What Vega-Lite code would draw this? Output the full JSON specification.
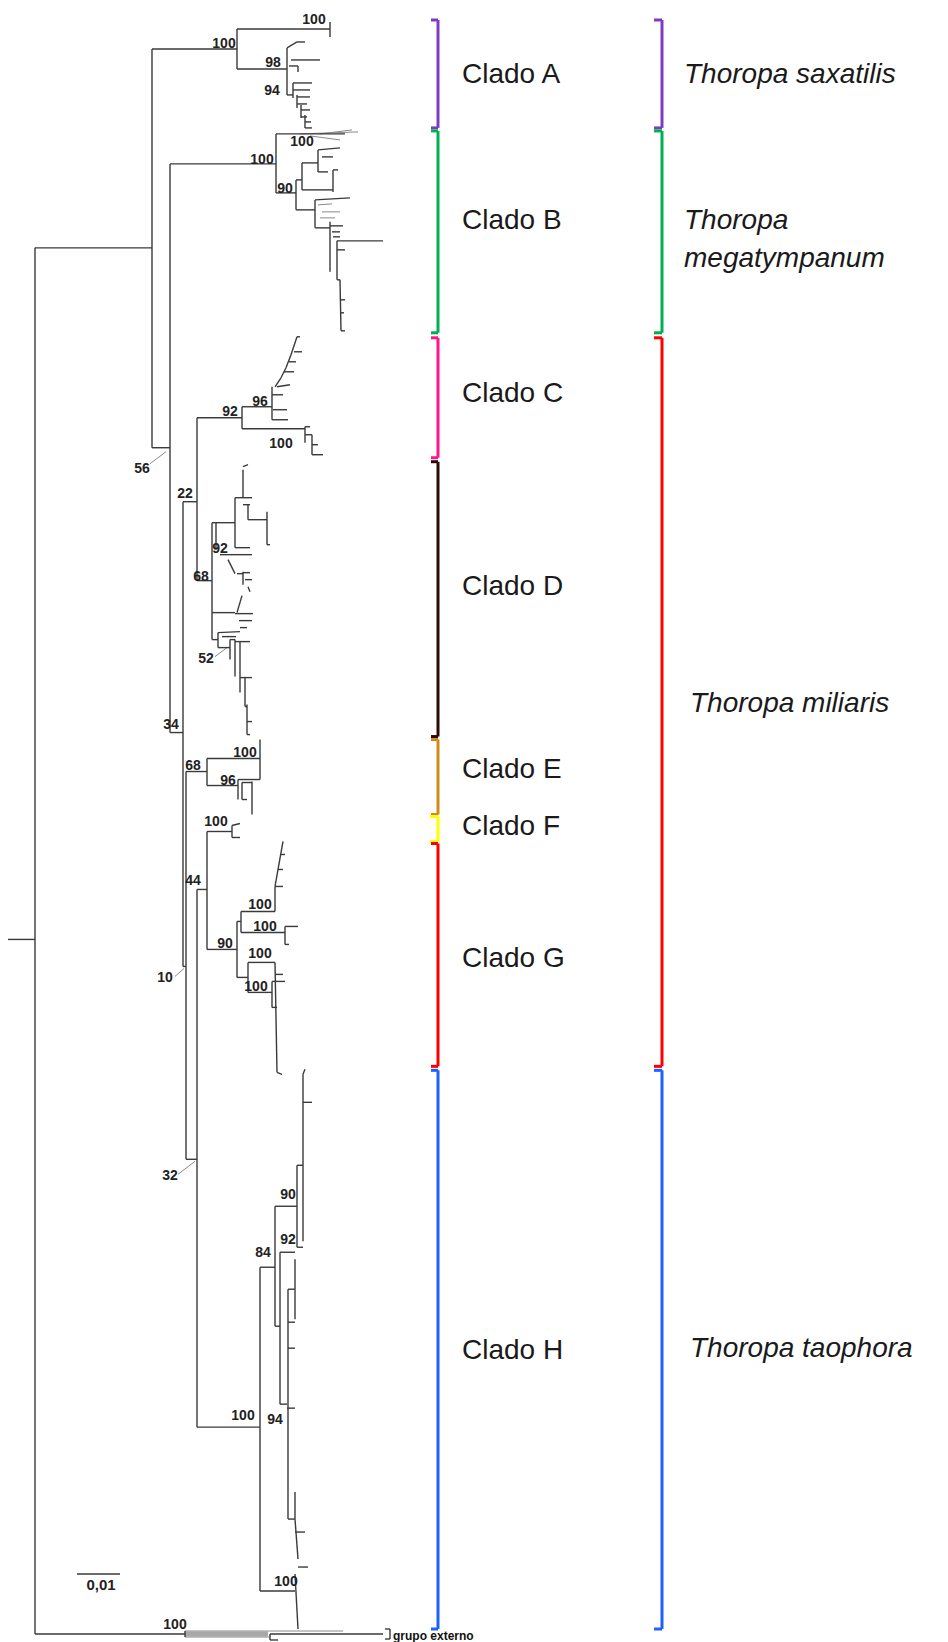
{
"$schema": "https://vega.github.io/schema/vega-lite/v6.json",
"width": 948, "height": 1642,
"autosize": {"type": "fit", "contains": "padding"},
"padding": 0,
"background": "white",
"config": {"view": {"stroke": null}, "text": {"font": "Liberation Sans"}},
"datasets": {
"tree": [
{"x":8,"y":940,"x2":35,"y2":940},{"x":35,"y":248,"x2":35,"y2":1635},{"x":35,"y":248,"x2":152,"y2":248},{"x":152,"y":49,"x2":152,"y2":448},{"x":152,"y":49,"x2":237,"y2":49},{"x":152,"y":448,"x2":170,"y2":448},{"x":170,"y":164,"x2":170,"y2":733},{"x":170,"y":164,"x2":276,"y2":164},{"x":170,"y":733,"x2":183,"y2":733},{"x":183,"y":502,"x2":183,"y2":967},{"x":183,"y":502,"x2":197,"y2":502},{"x":197,"y":418,"x2":197,"y2":581},{"x":197,"y":418,"x2":242,"y2":418},{"x":197,"y":581,"x2":212,"y2":581},{"x":183,"y":967,"x2":186,"y2":967},{"x":186,"y":772,"x2":186,"y2":1160},{"x":186,"y":772,"x2":207,"y2":772},{"x":186,"y":1160,"x2":197,"y2":1160},{"x":197,"y":890,"x2":197,"y2":1428},{"x":197,"y":890,"x2":207,"y2":890},{"x":207,"y":832,"x2":207,"y2":950},{"x":207,"y":832,"x2":232,"y2":832},{"x":207,"y":950,"x2":237,"y2":950},{"x":197,"y":1428,"x2":260,"y2":1428},
{"x":35,"y":1635,"x2":185,"y2":1635},{"x":185,"y":1632,"x2":185,"y2":1638},{"x":270,"y":1635,"x2":383,"y2":1635},{"x":270,"y":1635,"x2":270,"y2":1641},{"x":270,"y":1641,"x2":278,"y2":1641},{"x":385,"y":1630,"x2":390,"y2":1630},{"x":390,"y":1630,"x2":390,"y2":1640},{"x":385,"y":1640,"x2":390,"y2":1640},{"x":77,"y":1575,"x2":120,"y2":1575},
{"x":237,"y":29,"x2":237,"y2":69},{"x":237,"y":29,"x2":330,"y2":29},{"x":330,"y":22,"x2":330,"y2":37},{"x":237,"y":69,"x2":287,"y2":69},{"x":287,"y":48,"x2":287,"y2":95},{"x":287,"y":48,"x2":297,"y2":42},{"x":297,"y":42,"x2":305,"y2":42},{"x":291,"y":60,"x2":320,"y2":60},{"x":289,"y":66,"x2":298,"y2":66},{"x":298,"y":66,"x2":298,"y2":72},{"x":287,"y":95,"x2":293,"y2":95},{"x":293,"y":83,"x2":293,"y2":98},{"x":293,"y":83,"x2":312,"y2":83},{"x":293,"y":90,"x2":310,"y2":90},{"x":297,"y":95,"x2":297,"y2":108},{"x":297,"y":97,"x2":310,"y2":97},{"x":297,"y":104,"x2":307,"y2":104},{"x":301,"y":105,"x2":301,"y2":118},{"x":301,"y":110,"x2":310,"y2":110},{"x":301,"y":117,"x2":307,"y2":117},{"x":305,"y":115,"x2":305,"y2":128},{"x":305,"y":122,"x2":311,"y2":122},{"x":305,"y":128,"x2":312,"y2":128},
{"x":276,"y":134,"x2":276,"y2":193},{"x":276,"y":134,"x2":345,"y2":134},{"x":276,"y":193,"x2":296,"y2":193},{"x":296,"y":180,"x2":296,"y2":210},{"x":296,"y":180,"x2":302,"y2":180},{"x":302,"y":163,"x2":302,"y2":190},{"x":302,"y":163,"x2":318,"y2":163},{"x":318,"y":150,"x2":318,"y2":172},{"x":318,"y":150,"x2":340,"y2":148},{"x":318,"y":172,"x2":328,"y2":172},{"x":322,"y":157,"x2":333,"y2":157},{"x":302,"y":190,"x2":333,"y2":190},{"x":333,"y":170,"x2":333,"y2":192},{"x":333,"y":170,"x2":338,"y2":170},{"x":296,"y":210,"x2":315,"y2":210},{"x":315,"y":200,"x2":315,"y2":228},{"x":315,"y":200,"x2":350,"y2":198},{"x":315,"y":228,"x2":330,"y2":228},{"x":330,"y":222,"x2":330,"y2":272},{"x":330,"y":226,"x2":343,"y2":226},{"x":332,"y":232,"x2":340,"y2":232},{"x":333,"y":237,"x2":340,"y2":237},{"x":337,"y":241,"x2":383,"y2":241},{"x":337,"y":241,"x2":337,"y2":280},{"x":337,"y":250,"x2":345,"y2":250},{"x":337,"y":280,"x2":340,"y2":280},{"x":340,"y":280,"x2":341,"y2":331},{"x":340,"y":300,"x2":345,"y2":300},{"x":341,"y":313,"x2":344,"y2":313},{"x":341,"y":331,"x2":345,"y2":331},
{"x":242,"y":407,"x2":242,"y2":429},{"x":242,"y":407,"x2":272,"y2":407},{"x":272,"y":387,"x2":272,"y2":420},{"x":272,"y":420,"x2":288,"y2":420},{"x":273,"y":410,"x2":287,"y2":410},{"x":272,"y":395,"x2":283,"y2":395},{"x":277,"y":387,"x2":290,"y2":385},{"x":275,"y":387,"x2":281,"y2":378},{"x":281,"y":378,"x2":286,"y2":368},{"x":286,"y":368,"x2":291,"y2":355},{"x":291,"y":355,"x2":297,"y2":337},{"x":297,"y":337,"x2":300,"y2":337},{"x":284,"y":372,"x2":294,"y2":372},{"x":289,"y":362,"x2":296,"y2":362},{"x":294,"y":352,"x2":302,"y2":352},{"x":242,"y":429,"x2":305,"y2":429},{"x":305,"y":427,"x2":305,"y2":443},{"x":305,"y":435,"x2":312,"y2":435},{"x":312,"y":435,"x2":312,"y2":455},{"x":312,"y":455,"x2":323,"y2":455},{"x":312,"y":445,"x2":318,"y2":445},{"x":305,"y":427,"x2":310,"y2":427},
{"x":212,"y":523,"x2":212,"y2":640},{"x":212,"y":523,"x2":235,"y2":523},{"x":216,"y":523,"x2":216,"y2":550},{"x":235,"y":498,"x2":235,"y2":548},{"x":235,"y":498,"x2":243,"y2":498},{"x":243,"y":470,"x2":243,"y2":498},{"x":243,"y":467,"x2":248,"y2":465},{"x":243,"y":498,"x2":252,"y2":498},{"x":248,"y":505,"x2":248,"y2":520},{"x":243,"y":505,"x2":250,"y2":505},{"x":248,"y":520,"x2":267,"y2":520},{"x":267,"y":512,"x2":267,"y2":545},{"x":267,"y":545,"x2":270,"y2":545},{"x":235,"y":548,"x2":250,"y2":548},{"x":220,"y":555,"x2":252,"y2":555},{"x":228,"y":560,"x2":235,"y2":574},{"x":237,"y":574,"x2":243,"y2":574},{"x":243,"y":572,"x2":243,"y2":585},{"x":243,"y":573,"x2":250,"y2":573},{"x":245,"y":580,"x2":252,"y2":580},{"x":248,"y":587,"x2":250,"y2":592},{"x":212,"y":613,"x2":235,"y2":613},{"x":237,"y":613,"x2":242,"y2":596},{"x":235,"y":614,"x2":253,"y2":614},{"x":239,"y":621,"x2":252,"y2":621},{"x":240,"y":628,"x2":247,"y2":628},{"x":212,"y":640,"x2":218,"y2":640},{"x":218,"y":633,"x2":218,"y2":648},{"x":218,"y":633,"x2":240,"y2":632},{"x":222,"y":637,"x2":236,"y2":637},{"x":218,"y":648,"x2":230,"y2":648},{"x":230,"y":640,"x2":230,"y2":660},{"x":230,"y":640,"x2":235,"y2":640},{"x":235,"y":640,"x2":235,"y2":677},{"x":235,"y":642,"x2":250,"y2":642},{"x":240,"y":642,"x2":240,"y2":693},{"x":240,"y":678,"x2":252,"y2":678},{"x":245,"y":678,"x2":245,"y2":707},{"x":245,"y":707,"x2":247,"y2":707},{"x":247,"y":705,"x2":247,"y2":735},{"x":247,"y":722,"x2":252,"y2":722},{"x":247,"y":735,"x2":250,"y2":735},
{"x":207,"y":759,"x2":207,"y2":786},{"x":207,"y":759,"x2":260,"y2":759},{"x":260,"y":740,"x2":260,"y2":780},{"x":207,"y":786,"x2":238,"y2":786},{"x":238,"y":780,"x2":238,"y2":800},{"x":238,"y":780,"x2":260,"y2":780},{"x":242,"y":783,"x2":242,"y2":800},{"x":242,"y":800,"x2":247,"y2":800},{"x":252,"y":782,"x2":252,"y2":815},{"x":242,"y":783,"x2":252,"y2":783},
{"x":232,"y":826,"x2":232,"y2":838},{"x":232,"y":826,"x2":240,"y2":824},{"x":232,"y":838,"x2":240,"y2":838},
{"x":237,"y":922,"x2":237,"y2":978},{"x":237,"y":922,"x2":241,"y2":922},{"x":241,"y":912,"x2":241,"y2":933},{"x":241,"y":912,"x2":275,"y2":912},{"x":275,"y":887,"x2":275,"y2":912},{"x":275,"y":887,"x2":283,"y2":842},{"x":275,"y":887,"x2":283,"y2":887},{"x":278,"y":870,"x2":283,"y2":870},{"x":280,"y":855,"x2":285,"y2":855},{"x":241,"y":933,"x2":285,"y2":933},{"x":285,"y":927,"x2":285,"y2":945},{"x":285,"y":927,"x2":298,"y2":927},{"x":285,"y":945,"x2":289,"y2":945},{"x":237,"y":978,"x2":248,"y2":978},{"x":248,"y":963,"x2":248,"y2":993},{"x":248,"y":963,"x2":275,"y2":963},{"x":275,"y":963,"x2":277,"y2":1073},{"x":277,"y":1073,"x2":282,"y2":1075},{"x":275,"y":975,"x2":283,"y2":975},{"x":248,"y":993,"x2":272,"y2":993},{"x":272,"y":982,"x2":272,"y2":1008},{"x":272,"y":982,"x2":285,"y2":982},{"x":272,"y":1008,"x2":277,"y2":1008},
{"x":260,"y":1268,"x2":260,"y2":1592},{"x":260,"y":1268,"x2":275,"y2":1268},{"x":275,"y":1207,"x2":275,"y2":1327},{"x":275,"y":1207,"x2":297,"y2":1207},{"x":297,"y":1166,"x2":297,"y2":1248},{"x":297,"y":1166,"x2":303,"y2":1166},{"x":303,"y":1075,"x2":303,"y2":1242},{"x":303,"y":1075,"x2":305,"y2":1070},{"x":303,"y":1103,"x2":312,"y2":1103},{"x":297,"y":1248,"x2":303,"y2":1248},{"x":275,"y":1327,"x2":280,"y2":1327},{"x":280,"y":1253,"x2":280,"y2":1405},{"x":280,"y":1253,"x2":295,"y2":1253},{"x":295,"y":1260,"x2":295,"y2":1320},{"x":288,"y":1290,"x2":288,"y2":1520},{"x":288,"y":1290,"x2":295,"y2":1290},{"x":288,"y":1323,"x2":295,"y2":1323},{"x":288,"y":1349,"x2":295,"y2":1349},{"x":280,"y":1405,"x2":287,"y2":1405},{"x":287,"y":1409,"x2":295,"y2":1409},{"x":288,"y":1520,"x2":295,"y2":1520},{"x":295,"y":1493,"x2":295,"y2":1520},{"x":295,"y":1520,"x2":298,"y2":1560},{"x":295,"y":1533,"x2":305,"y2":1533},{"x":298,"y":1568,"x2":308,"y2":1568},{"x":260,"y":1592,"x2":295,"y2":1592},{"x":295,"y":1575,"x2":298,"y2":1630}
],
"thin": [
{"x":300,"y":134,"x2":358,"y2":132},{"x":310,"y":136,"x2":340,"y2":140},{"x":320,"y":134,"x2":352,"y2":130},{"x":322,"y":212,"x2":340,"y2":212},{"x":320,"y":218,"x2":335,"y2":218},{"x":318,"y":205,"x2":332,"y2":204},
{"x":150,"y":464,"x2":166,"y2":452},{"x":175,"y":977,"x2":184,"y2":969},{"x":178,"y":1175,"x2":195,"y2":1162},{"x":215,"y":657,"x2":227,"y2":648},
{"x":185,"y":1632,"x2":343,"y2":1632},{"x":185,"y":1638,"x2":270,"y2":1638}
],
"band": [{"x":185,"y":1635,"x2":268,"y2":1635}],
"brackets": [
{"g":"A","x":438,"y":20,"x2":438,"y2":128},{"g":"A","x":431,"y":20,"x2":438,"y2":20},{"g":"A","x":431,"y":128,"x2":438,"y2":128},
{"g":"B","x":438,"y":131,"x2":438,"y2":333},{"g":"B","x":431,"y":131,"x2":438,"y2":131},{"g":"B","x":431,"y":333,"x2":438,"y2":333},
{"g":"C","x":438,"y":338,"x2":438,"y2":458},{"g":"C","x":431,"y":338,"x2":438,"y2":338},{"g":"C","x":431,"y":458,"x2":438,"y2":458},
{"g":"D","x":438,"y":462,"x2":438,"y2":737},{"g":"D","x":431,"y":462,"x2":438,"y2":462},{"g":"D","x":431,"y":737,"x2":438,"y2":737},
{"g":"E","x":438,"y":740,"x2":438,"y2":815},{"g":"E","x":431,"y":740,"x2":438,"y2":740},{"g":"E","x":431,"y":815,"x2":438,"y2":815},
{"g":"F","x":438,"y":817,"x2":438,"y2":842},{"g":"F","x":430,"y":817,"x2":438,"y2":817},{"g":"F","x":430,"y":842,"x2":438,"y2":842},
{"g":"G","x":438,"y":844,"x2":438,"y2":1067},{"g":"G","x":431,"y":844,"x2":438,"y2":844},{"g":"G","x":431,"y":1067,"x2":438,"y2":1067},
{"g":"H","x":438,"y":1071,"x2":438,"y2":1630},{"g":"H","x":431,"y":1071,"x2":438,"y2":1071},{"g":"H","x":431,"y":1630,"x2":438,"y2":1630},
{"g":"T. saxatilis","x":662,"y":20,"x2":662,"y2":128},{"g":"T. saxatilis","x":654,"y":20,"x2":662,"y2":20},{"g":"T. saxatilis","x":654,"y":128,"x2":662,"y2":128},
{"g":"T. megatympanum","x":662,"y":131,"x2":662,"y2":333},{"g":"T. megatympanum","x":654,"y":131,"x2":662,"y2":131},{"g":"T. megatympanum","x":654,"y":333,"x2":662,"y2":333},
{"g":"T. miliaris","x":662,"y":338,"x2":662,"y2":1067},{"g":"T. miliaris","x":654,"y":338,"x2":662,"y2":338},{"g":"T. miliaris","x":654,"y":1067,"x2":662,"y2":1067},
{"g":"T. taophora","x":662,"y":1071,"x2":662,"y2":1630},{"g":"T. taophora","x":654,"y":1071,"x2":662,"y2":1071},{"g":"T. taophora","x":654,"y":1630,"x2":662,"y2":1630}
],
"boot": [
{"x":314,"y":20,"t":"100"},{"x":224,"y":44,"t":"100"},{"x":273,"y":63,"t":"98"},{"x":272,"y":91,"t":"94"},{"x":302,"y":142,"t":"100"},{"x":262,"y":160,"t":"100"},{"x":285,"y":189,"t":"90"},
{"x":142,"y":469,"t":"56"},{"x":230,"y":412,"t":"92"},{"x":260,"y":402,"t":"96"},{"x":281,"y":444,"t":"100"},{"x":185,"y":494,"t":"22"},{"x":220,"y":549,"t":"92"},{"x":201,"y":577,"t":"68"},{"x":206,"y":659,"t":"52"},
{"x":171,"y":725,"t":"34"},{"x":245,"y":753,"t":"100"},{"x":193,"y":766,"t":"68"},{"x":228,"y":781,"t":"96"},{"x":216,"y":823,"t":"100"},{"x":193,"y":882,"t":"44"},{"x":260,"y":906,"t":"100"},{"x":265,"y":928,"t":"100"},{"x":225,"y":945,"t":"90"},{"x":260,"y":955,"t":"100"},{"x":256,"y":988,"t":"100"},{"x":165,"y":979,"t":"10"},
{"x":170,"y":1177,"t":"32"},{"x":288,"y":1196,"t":"90"},{"x":288,"y":1241,"t":"92"},{"x":263,"y":1254,"t":"84"},
{"x":243,"y":1417,"t":"100"},{"x":275,"y":1421,"t":"94"},{"x":286,"y":1583,"t":"100"},{"x":175,"y":1626,"t":"100"}
],
"clados": [
{"x":462,"y":75,"t":"Clado A"},{"x":462,"y":221,"t":"Clado B"},{"x":462,"y":394,"t":"Clado C"},{"x":462,"y":587,"t":"Clado D"},{"x":462,"y":770,"t":"Clado E"},{"x":462,"y":828,"t":"Clado F"},{"x":462,"y":960,"t":"Clado G"},{"x":462,"y":1352,"t":"Clado H"}
],
"species": [
{"x":684,"y":75,"t":"Thoropa saxatilis"},{"x":684,"y":221,"t":"Thoropa"},{"x":684,"y":259,"t":"megatympanum"},{"x":690,"y":704,"t":"Thoropa miliaris"},{"x":690,"y":1350,"t":"Thoropa taophora"}
]
},
"encoding": {
"x": {"field": "x", "type": "quantitative", "scale": {"domain": [0, 948], "nice": false, "zero": false}, "axis": null},
"y": {"field": "y", "type": "quantitative", "scale": {"domain": [0, 1642], "nice": false, "zero": false, "reverse": true}, "axis": null}
},
"layer": [
{"data": {"name": "band"}, "mark": {"type": "rule", "color": "#a8a8a8", "strokeWidth": 5}, "encoding": {"x2": {"field": "x2"}, "y2": {"field": "y2"}}},
{"data": {"name": "thin"}, "mark": {"type": "rule", "color": "#8a8a8a", "strokeWidth": 1}, "encoding": {"x2": {"field": "x2"}, "y2": {"field": "y2"}}},
{"data": {"name": "tree"}, "mark": {"type": "rule", "color": "#3a3a3a", "strokeWidth": 1.4}, "encoding": {"x2": {"field": "x2"}, "y2": {"field": "y2"}}},
{"data": {"name": "brackets"}, "mark": {"type": "rule", "strokeWidth": 3}, "encoding": {"x2": {"field": "x2"}, "y2": {"field": "y2"},
 "color": {"field": "g", "type": "nominal", "legend": null, "scale": {"domain": ["A","B","C","D","E","F","G","H","T. saxatilis","T. megatympanum","T. miliaris","T. taophora"], "range": ["#7d3cc0","#00b050","#ff148c","#2a0a0a","#d08a1a","#ffff00","#ff0000","#2060ff","#7d3cc0","#00b050","#ff0000","#2060ff"]}}}},
{"data": {"name": "boot"}, "mark": {"type": "text", "fontSize": 14, "fontWeight": "bold", "align": "center", "baseline": "middle", "color": "#222"}, "encoding": {"text": {"field": "t"}}},
{"data": {"name": "clados"}, "mark": {"type": "text", "fontSize": 28, "align": "left", "baseline": "middle", "color": "#1a1a1a"}, "encoding": {"text": {"field": "t"}}},
{"data": {"name": "species"}, "mark": {"type": "text", "fontSize": 28, "fontStyle": "italic", "align": "left", "baseline": "middle", "color": "#1a1a1a"}, "encoding": {"text": {"field": "t"}}},
{"data": {"values": [{"x": 393, "y": 1637, "t": "grupo externo"}]}, "mark": {"type": "text", "fontSize": 12, "fontWeight": "bold", "align": "left", "baseline": "middle", "color": "#111"}, "encoding": {"text": {"field": "t"}}},
{"data": {"values": [{"x": 101, "y": 1586, "t": "0,01"}]}, "mark": {"type": "text", "fontSize": 15, "fontWeight": "bold", "align": "center", "baseline": "middle", "color": "#222"}, "encoding": {"text": {"field": "t"}}}
]
}
